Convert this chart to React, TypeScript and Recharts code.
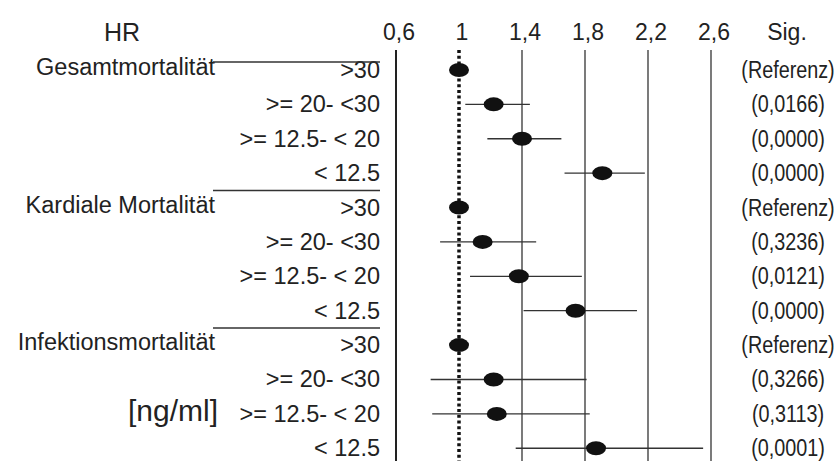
import React from 'react';
import { ScatterChart, Scatter, XAxis, YAxis, ErrorBar, ReferenceLine } from 'recharts';

const groups = ['Gesamtmortalität', 'Kardiale Mortalität', 'Infektionsmortalität'];
const levels = ['>30', '>= 20- <30', '>= 12.5- < 20', '< 12.5'];

const hrGesamt = [1, 1.22, 1.4, 1.91];
const loGesamt = [1, 1.04, 1.18, 1.67];
const hiGesamt = [1, 1.45, 1.65, 2.18];

const hrKardial = [1, 1.15, 1.38, 1.74];
const loKardial = [1, 0.88, 1.07, 1.41];
const hiKardial = [1, 1.49, 1.78, 2.13];

const hrInfekt = [1, 1.22, 1.24, 1.87];
const loInfekt = [1, 0.82, 0.83, 1.36];
const hiInfekt = [1, 1.81, 1.83, 2.55];

const sigLabels = [
  '(Referenz)', '(0,0166)', '(0,0000)', '(0,0000)',
  '(Referenz)', '(0,3236)', '(0,0121)', '(0,0000)',
  '(Referenz)', '(0,3266)', '(0,3113)', '(0,0001)',
];

const xTicks = [0.6, 1, 1.4, 1.8, 2.2, 2.6];
const gridValues = [1.4, 1.8, 2.2, 2.6];

const FONT = '"Liberation Sans", Arial, sans-serif';
const INK = '#222';

const series = [
  [hrGesamt, loGesamt, hiGesamt],
  [hrKardial, loKardial, hiKardial],
  [hrInfekt, loInfekt, hiInfekt],
];

const rows = series.flatMap(([hr, lo, hi], g) =>
  hr.map((v, i) => ({
    row: g * levels.length + i,
    group: g,
    level: levels[i],
    hr: v,
    err: [v - lo[i], hi[i] - v],
    sig: sigLabels[g * levels.length + i],
  }))
);

const fmt = (v: number) => String(v).replace('.', ',');

function XTick(props: any) {
  const { x, y, payload } = props;
  return (
    <text x={x + 3} y={y} textAnchor="middle" fontSize={23} fill={INK} fontFamily={FONT}>
      {fmt(payload.value)}
    </text>
  );
}

function RowTick(props: any) {
  const { y, payload } = props;
  const r = rows[Math.round(payload.value)];
  if (!r) return null;
  const first = r.row % levels.length === 0;
  const sepY = r.group === 0 ? y - 8 : y - 17;
  return (
    <g fontFamily={FONT} fill={INK}>
      <text x={380} y={y + 8} textAnchor="end" fontSize={23.5}>{r.level}</text>
      {/* sig column in the source is set in a condensed face */}
      <text transform={`translate(788 ${y + 8}) scale(0.86 1)`} textAnchor="middle" fontSize={23}>
        {r.sig}
      </text>
      {first && (
        <>
          <text x={215} y={y + 5} textAnchor="end" fontSize={23.5}>{groups[r.group]}</text>
          <line x1={213} x2={380} y1={sepY} y2={sepY} stroke="#333" strokeWidth={1.5} />
        </>
      )}
    </g>
  );
}

const Dot = (props: any) => <ellipse cx={props.cx} cy={props.cy} rx={10} ry={7} fill="#111" />;

export default function App() {
  return (
    <div style={{ position: 'absolute', left: 0, top: 0, width: 837, height: 461, background: '#fff' }}>
      <ScatterChart width={837} height={461} margin={{ top: 20, right: 126, bottom: 0, left: 356 }}>
        <XAxis
          type="number"
          dataKey="hr"
          orientation="top"
          domain={[0.6, 2.6]}
          ticks={xTicks}
          interval={0}
          allowDataOverflow
          height={30}
          axisLine={false}
          tickLine={false}
          tickSize={4}
          tickMargin={6}
          tick={<XTick />}
        />
        <YAxis
          type="number"
          dataKey="row"
          domain={[-0.58, 11.37]}
          reversed
          allowDataOverflow
          ticks={rows.map((r) => r.row)}
          interval={0}
          width={40}
          tickLine={false}
          axisLine={{ stroke: INK, strokeWidth: 2 }}
          tick={<RowTick />}
        />
        {gridValues.map((v) => (
          <ReferenceLine key={v} x={v} stroke="#333" strokeWidth={1.3} />
        ))}
        <ReferenceLine x={1} stroke="#111" strokeWidth={3.5} strokeDasharray="3 2.7" />
        <Scatter data={rows} shape={<Dot />} isAnimationActive={false}>
          <ErrorBar dataKey="err" direction="x" width={0} stroke="#333" strokeWidth={1.3} />
        </Scatter>
      </ScatterChart>
      <svg
        width={837}
        height={461}
        style={{ position: 'absolute', left: 0, top: 0, pointerEvents: 'none' }}
        fontFamily={FONT}
        fill={INK}
      >
        <text x={122} y={41} textAnchor="middle" fontSize={25}>HR</text>
        <text x={787} y={40} textAnchor="middle" fontSize={23}>Sig.</text>
        <text x={173} y={421} textAnchor="middle" fontSize={30}>[ng/ml]</text>
      </svg>
    </div>
  );
}
